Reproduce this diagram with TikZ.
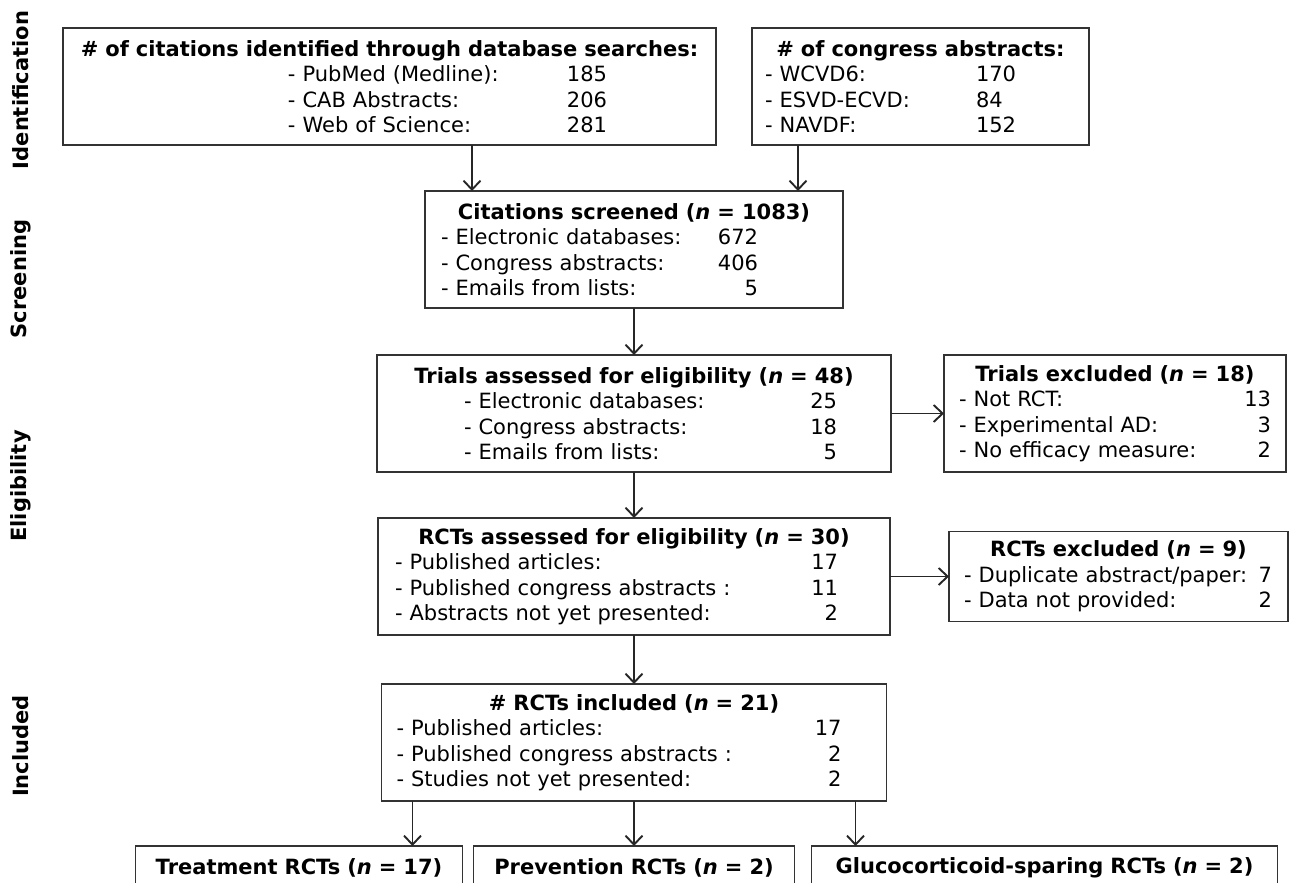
\documentclass[tikz,border=0pt]{standalone}
\usepackage{fontspec}
\setmainfont{DejaVu Sans}
\usetikzlibrary{arrows.meta, positioning}

% one list line: indent, column width, label, number
\newcommand{\lrow}[4]{\hspace*{#1}\makebox[#2][l]{#3}#4}
\newcommand{\rrow}[4]{\hspace*{#1}\makebox[#2][l]{#3\hfill#4}}
\newcommand{\ttl}[1]{\hspace*{\fill}\textbf{#1}\hspace*{\fill}\mbox{}}

\begin{document}
\begin{tikzpicture}[
  node distance=46pt and 36pt,
  box/.style={rectangle, draw=black!80, line width=1.7pt, inner xsep=0pt,
              inner ysep=4pt, outer sep=0pt, minimum height=117pt, align=left,
              font=\fontsize{21}{25.5}\selectfont},
  exbox/.style={box, minimum height=90pt},
  endbox/.style={box, minimum height=44pt, align=center},
  stage/.style={rotate=90, font=\bfseries\fontsize{21}{25}\selectfont},
  arr/.style={-{Straight Barb[length=9pt,width=17pt]}, line width=1.9pt, draw=black!85}
]
\useasboundingbox (0,0) rectangle (1291pt,-883pt);
\clip (0,0) rectangle (1291pt,-883pt);

\node[stage] (lbident) at (21pt,-90pt)  {Identification};
\node[stage] (lbscr)   at (21pt,-279pt) {Screening};
\node[stage] (lbelig)  at (21pt,-486pt) {Eligibility};
\node[stage] (lbincl)  at (21pt,-746pt) {Included};

\node[box, text width=653pt] (dbsearch) at (389.5pt,-86.5pt)
  {\ttl{\# of citations identified through database searches:}\\
   \lrow{225pt}{279pt}{- PubMed (Medline):}{185}\\
   \lrow{225pt}{279pt}{- CAB Abstracts:}{206}\\
   \lrow{225pt}{279pt}{- Web of Science:}{281}};
\node[box, text width=337pt, right=36pt of dbsearch] (congress)
  {\ttl{\# of congress abstracts:}\\
   \lrow{13pt}{211pt}{- WCVD6:}{170}\\
   \lrow{13pt}{211pt}{- ESVD-ECVD:}{84}\\
   \lrow{13pt}{211pt}{- NAVDF:}{152}};
\node[box, text width=418pt, below=46pt of dbsearch, xshift=244.5pt] (screen)
  {\ttl{Citations screened (\textit{n} = 1083)}\\
   \rrow{16pt}{317pt}{- Electronic databases:}{672}\\
   \rrow{16pt}{317pt}{- Congress abstracts:}{406}\\
   \rrow{16pt}{317pt}{- Emails from lists:}{5}};
\node[box, text width=514pt, below=47pt of screen] (trials)
  {\ttl{Trials assessed for eligibility (\textit{n} = 48)}\\
   \rrow{87pt}{373pt}{- Electronic databases:}{25}\\
   \rrow{87pt}{373pt}{- Congress abstracts:}{18}\\
   \rrow{87pt}{373pt}{- Emails from lists:}{5}};
\node[box, text width=342pt, right=53pt of trials] (trialsex)
  {\ttl{Trials excluded (\textit{n} = 18)}\\
   \rrow{15pt}{312pt}{- Not RCT:}{13}\\
   \rrow{15pt}{312pt}{- Experimental AD:}{3}\\
   \rrow{15pt}{312pt}{- No efficacy measure:}{2}};
\node[box, text width=512pt, below=46pt of trials] (rcts)
  {\ttl{RCTs assessed for eligibility (\textit{n} = 30)}\\
   \rrow{17pt}{443pt}{- Published articles:}{17}\\
   \rrow{17pt}{443pt}{- Published congress abstracts :}{11}\\
   \rrow{17pt}{443pt}{- Abstracts not yet presented:}{2}};
\node[exbox, text width=339pt, right=59pt of rcts] (rctsex)
  {\ttl{RCTs excluded (\textit{n} = 9)}\\
   \rrow{15pt}{308pt}{- Duplicate abstract/paper:}{7}\\
   \rrow{15pt}{308pt}{- Data not provided:}{2}};
\node[box, text width=505pt, below=49pt of rcts] (incl)
  {\ttl{\# RCTs included (\textit{n} = 21)}\\
   \rrow{15pt}{445pt}{- Published articles:}{17}\\
   \rrow{15pt}{445pt}{- Published congress abstracts :}{2}\\
   \rrow{15pt}{445pt}{- Studies not yet presented:}{2}};
\node[endbox, text width=321pt, below=45pt of incl] (prev)
  {\textbf{Prevention RCTs (\textit{n} = 2)}};
\node[endbox, text width=327pt, left=11pt of prev] (treat)
  {\textbf{Treatment RCTs (\textit{n} = 17)}};
\node[endbox, text width=466pt, right=17pt of prev] (gluco)
  {\textbf{Glucocorticoid-sparing RCTs (\textit{n} = 2)}};

\coordinate (s1) at ([xshift=47pt]screen.north west);
\coordinate (s2) at ([xshift=-45pt]screen.north east);
\coordinate (t1) at ([xshift=31pt]incl.south west);
\coordinate (t3) at ([xshift=-31pt]incl.south east);

\draw[arr] (s1 |- dbsearch.south) -- (s1);
\draw[arr] (s2 |- congress.south) -- (s2);
\draw[arr] (screen.south) -- (screen.south |- trials.north);
\draw[arr] (trials.east) -- (trials.east -| trialsex.west);
\draw[arr] (trials.south) -- (trials.south |- rcts.north);
\draw[arr] (rcts.east) -- (rcts.east -| rctsex.west);
\draw[arr] (rcts.south) -- (rcts.south |- incl.north);
\draw[arr] (t1) -- (t1 |- treat.north);
\draw[arr] (incl.south) -- (incl.south |- prev.north);
\draw[arr] (t3) -- (t3 |- gluco.north);
\end{tikzpicture}
\end{document}
